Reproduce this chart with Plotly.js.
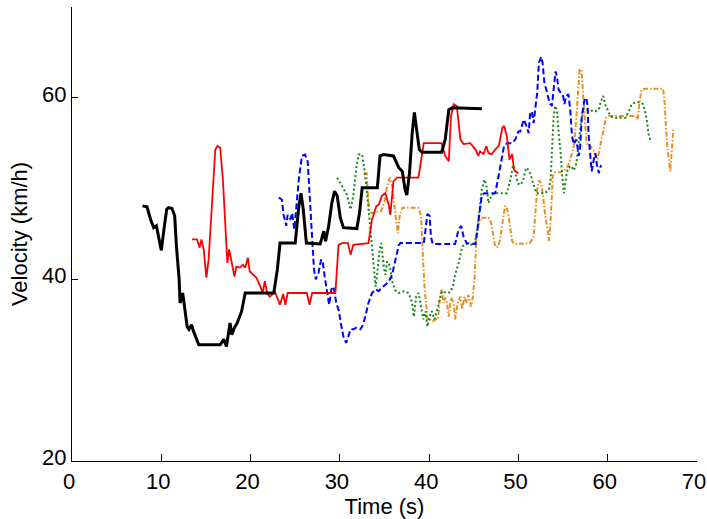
<!DOCTYPE html>
<html>
<head>
<meta charset="utf-8">
<script src="https://cdn.plot.ly/plotly-3.0.1.min.js"></script>
<style>html,body{margin:0;padding:0;background:#fff;}#chart{width:707px;height:519px;}</style>
</head>
<body>
<div id="chart"></div>
<script>
// [time (s), velocity (km/h)] pairs
const blackData = [[7.9,48.1],[8.4,48.0],[8.8,46.6],[9.15,45.7],[9.45,45.9],[9.7,44.7],[10.0,43.2],[10.3,45.5],[10.6,47.7],[10.8,47.9],[11.2,47.8],[11.5,47.0],[11.7,43.6],[12.0,40.0],[12.1,37.4],[12.4,38.5],[12.6,36.9],[12.9,34.8],[13.1,34.5],[13.4,35.0],[13.6,34.3],[14.0,33.2],[14.2,32.8],[16.6,32.8],[17.0,33.4],[17.3,32.6],[17.7,35.2],[17.9,33.9],[18.2,34.7],[18.5,35.2],[19.0,36.5],[19.4,38.5],[22.6,38.5],[23.0,41.1],[23.3,44.0],[25.0,44.0],[25.4,48.0],[25.65,49.5],[25.9,47.7],[26.25,44.0],[27.8,43.9],[28.2,45.3],[28.4,44.2],[28.75,45.9],[29.1,48.4],[29.4,49.7],[29.7,49.2],[30.05,46.8],[30.4,45.7],[31.9,45.6],[32.2,47.3],[32.5,50.1],[34.2,50.1],[34.5,53.6],[34.9,53.75],[36.0,53.6],[36.6,52.3],[37.0,51.9],[37.3,49.9],[37.5,49.3],[37.8,51.7],[38.1,56.1],[38.35,58.4],[38.6,56.5],[38.9,54.3],[39.2,54.0],[41.4,54.0],[41.8,55.4],[42.2,58.7],[42.6,58.9],[45.9,58.8]];
const redData = [[13.45,44.4],[14.0,44.4],[14.3,43.5],[14.5,44.4],[14.75,43.3],[15.05,40.2],[15.3,42.2],[15.5,45.5],[15.8,51.0],[16.05,54.3],[16.3,54.7],[16.6,54.5],[16.9,51.0],[17.2,45.5],[17.4,41.8],[17.6,43.3],[17.85,42.2],[18.2,40.3],[18.4,41.4],[18.8,41.3],[19.15,41.6],[19.4,41.3],[19.7,42.4],[19.9,40.9],[20.3,40.5],[20.65,40.2],[21.1,39.2],[21.35,38.5],[21.6,39.8],[21.85,38.5],[22.15,38.1],[22.4,38.3],[22.7,38.7],[22.95,38.0],[23.3,37.2],[23.65,38.4],[23.9,37.2],[24.15,38.5],[26.3,38.5],[26.6,37.2],[26.9,38.5],[29.5,38.5],[29.85,43.8],[30.25,44.0],[30.9,44.0],[31.2,42.7],[31.5,43.8],[33.2,44.0],[33.6,46.6],[34.1,48.1],[34.35,48.2],[34.7,49.2],[35.1,49.5],[35.5,48.1],[35.65,47.1],[36.0,50.8],[36.4,51.2],[38.8,51.2],[39.2,53.9],[39.4,55.0],[41.4,55.0],[41.8,53.6],[42.2,53.0],[42.45,58.0],[42.75,59.3],[43.1,59.1],[43.5,55.4],[43.85,54.9],[44.6,55.0],[45.2,54.3],[45.5,53.6],[45.7,54.1],[46.1,53.8],[46.4,54.7],[46.65,53.9],[47.0,53.8],[47.4,54.3],[47.8,54.7],[48.2,56.7],[48.4,56.9],[48.7,55.8],[49.0,53.2],[49.3,53.8],[49.5,52.1],[49.65,51.9],[50.0,51.7]];
const blueData = [[23.15,49.0],[23.5,48.8],[23.7,47.1],[24.0,45.9],[24.15,47.1],[24.45,46.6],[24.65,47.3],[24.9,45.5],[25.1,47.7],[25.4,51.0],[25.75,53.6],[26.1,53.75],[26.4,53.0],[26.6,49.2],[26.9,44.7],[27.1,41.1],[27.3,40.0],[27.6,40.7],[27.9,42.2],[28.1,41.8],[28.3,40.3],[28.55,38.5],[28.8,37.2],[29.05,38.9],[29.3,39.2],[29.6,37.4],[29.9,36.5],[30.1,35.2],[30.4,33.7],[30.7,33.0],[31.0,33.9],[31.2,34.5],[31.55,34.5],[31.85,34.7],[32.3,34.5],[32.6,35.0],[32.85,35.9],[33.2,37.4],[33.6,38.5],[34.0,38.9],[34.35,38.7],[34.7,39.1],[35.1,39.4],[35.5,39.8],[35.85,40.5],[36.1,41.5],[36.3,42.5],[36.6,43.8],[36.8,44.0],[39.4,44.0],[39.6,45.5],[39.8,47.2],[40.05,47.0],[40.2,44.7],[40.4,43.9],[42.9,43.9],[43.3,45.5],[43.6,45.9],[43.85,44.7],[44.2,44.0],[45.2,43.9],[45.55,46.6],[45.9,49.3],[46.2,49.5],[47.4,49.5],[47.8,51.5],[48.35,54.5],[48.7,55.0],[49.3,55.0],[49.65,55.4],[50.0,56.3],[50.2,56.3],[50.6,57.6],[50.9,56.9],[51.15,56.1],[51.3,58.2],[51.5,58.5],[51.7,57.2],[51.9,58.9],[52.1,60.6],[52.3,63.9],[52.55,64.5],[52.7,63.9],[52.9,61.7],[53.2,60.6],[53.5,59.4],[53.75,59.1],[53.95,61.3],[54.15,62.9],[54.3,62.4],[54.5,60.9],[54.7,60.6],[55.0,60.2],[55.15,59.3],[55.35,60.2],[55.6,60.4],[55.8,58.7],[56.0,55.8],[56.2,54.9],[56.5,55.4],[56.75,53.6],[56.9,54.3],[57.1,58.0],[57.4,59.8],[57.6,60.0],[57.75,59.1],[57.85,56.1],[58.05,53.6],[58.2,51.9],[58.4,53.0],[58.6,53.9],[58.8,52.6],[59.0,51.7],[59.25,52.6]];
const greenData = [[29.7,51.2],[30.05,50.6],[30.4,49.9],[30.8,49.3],[31.2,47.7],[31.5,49.2],[31.85,52.3],[32.1,53.75],[32.5,53.75],[32.75,52.1],[33.05,49.5],[33.4,45.5],[33.7,41.8],[34.0,39.2],[34.15,40.3],[34.45,43.3],[34.65,44.0],[34.9,41.5],[35.1,40.5],[35.3,42.0],[35.6,41.5],[35.85,39.8],[36.2,38.8],[36.6,38.5],[37.15,38.7],[37.7,38.5],[38.1,37.4],[38.3,35.9],[38.55,38.1],[38.8,38.5],[39.1,37.0],[39.35,35.6],[39.6,36.5],[39.8,34.8],[40.05,35.9],[40.3,36.5],[40.6,35.6],[40.9,36.7],[41.2,38.1],[41.45,38.7],[42.0,38.5],[42.4,38.6],[42.7,39.4],[42.9,40.5],[43.3,41.8],[43.7,43.6],[44.05,43.9],[45.05,43.8],[45.35,45.1],[45.65,47.7],[45.9,49.9],[46.2,51.0],[46.4,50.4],[46.65,48.4],[47.0,49.3],[47.4,49.5],[48.7,49.5],[49.1,51.0],[49.4,52.6],[49.65,51.9],[49.9,50.6],[50.2,50.4],[50.5,50.8],[50.8,52.1],[50.95,52.3],[51.3,51.7],[51.7,50.3],[52.0,49.5],[53.0,49.5],[53.4,49.9],[53.6,51.0],[53.75,54.3],[53.95,58.0],[54.1,59.1],[54.3,58.7],[54.5,56.1],[54.7,54.3],[54.9,51.4],[55.1,49.5],[55.25,50.6],[55.4,51.7],[55.6,52.3],[55.9,52.5],[56.2,52.0],[56.5,52.8],[56.75,55.0],[57.0,57.2],[57.25,58.5],[57.5,58.7],[58.6,58.5],[59.0,58.7],[59.2,59.5],[59.5,60.2],[59.7,59.3],[60.0,58.7],[60.3,58.0],[60.65,57.8],[62.0,57.8],[62.35,58.5],[62.7,59.3],[63.1,59.5],[63.65,59.5],[63.95,59.3],[64.2,58.5],[64.4,57.4],[64.55,56.1],[64.85,55.1]];
const orangeData = [[32.7,51.7],[33.0,51.7],[33.1,49.9],[33.3,47.5],[33.6,47.3],[34.2,47.4],[34.6,47.5],[35.0,48.5],[35.3,50.3],[35.6,51.2],[35.85,50.5],[36.05,48.5],[36.3,46.5],[36.5,45.1],[36.7,47.0],[37.0,47.9],[38.8,47.9],[39.1,47.0],[39.3,42.5],[39.5,38.9],[39.7,37.0],[39.8,35.6],[40.1,35.6],[40.4,35.4],[40.7,35.6],[41.0,35.6],[41.2,38.1],[41.4,38.9],[41.6,37.4],[41.8,38.0],[42.0,37.4],[42.2,35.9],[42.45,38.0],[42.75,37.4],[42.9,35.6],[43.2,37.4],[43.5,38.1],[43.7,36.7],[43.95,38.1],[44.2,37.4],[44.4,38.3],[44.7,37.0],[44.9,38.1],[45.1,40.3],[45.3,44.7],[45.55,46.2],[45.8,46.8],[46.65,46.8],[46.95,46.2],[47.2,44.7],[47.4,43.6],[47.7,43.6],[47.95,44.4],[48.25,46.5],[48.5,48.1],[48.7,47.9],[48.9,47.0],[49.1,45.5],[49.3,44.2],[49.55,43.9],[51.3,44.0],[51.7,44.7],[51.9,47.0],[52.1,49.9],[52.3,50.9],[52.55,50.6],[52.8,48.8],[53.0,47.0],[53.3,45.3],[53.4,44.2],[53.55,45.5],[53.7,48.1],[53.85,51.4],[54.1,51.8],[54.7,51.8],[55.25,52.1],[55.6,52.6],[56.0,53.9],[56.25,55.0],[56.5,58.0],[56.7,60.9],[56.85,63.1],[57.05,63.1],[57.25,60.2],[57.4,57.2],[57.6,55.4],[57.75,54.7],[58.05,54.7],[58.35,54.3],[58.6,53.9],[58.85,53.2],[59.05,54.3],[59.3,55.4],[59.55,56.5],[59.8,57.8],[60.1,58.0],[63.1,58.0],[63.35,57.6],[63.55,59.5],[63.8,60.9],[64.2,61.0],[66.2,61.0],[66.35,59.8],[66.5,57.2],[66.7,54.3],[66.9,52.8],[67.0,51.9],[67.1,53.2],[67.25,56.1],[67.35,56.5]];

const xTicks = [0,10,20,30,40,50,60,70];
const yTicks = [20,40,60];
const xTitle = 'Time (s)';
const yTitle = 'Velocity (km/h)';

function tr(data, color, width, dash) {
  return {
    x: data.map(p => p[0]), y: data.map(p => p[1]),
    type: 'scatter', mode: 'lines',
    line: {color: color, width: width, dash: dash},
    hoverinfo: 'skip', showlegend: false
  };
}

const traces = [
  tr(orangeData, 'rgb(232,144,32)', 2, '5px,2px,1.5px,2px'),
  tr(greenData, 'rgb(20,135,20)', 2, '2px,2.5px'),
  tr(blueData, 'rgb(0,0,255)', 2, '6px,3px'),
  tr(redData, 'rgb(255,0,0)', 1.8, 'solid'),
  tr(blackData, 'rgb(0,0,0)', 3, 'solid')
];

const fontFam = '"Liberation Sans", Arial, sans-serif';
const layout = {
  width: 707, height: 519,
  margin: {l: 72, r: 10, t: 7, b: 58},
  paper_bgcolor: '#fff', plot_bgcolor: '#fff',
  font: {family: fontFam, size: 22, color: '#000'},
  xaxis: {
    range: [0, 70], tickvals: xTicks, ticktext: xTicks.map(String),
    ticks: 'inside', ticklen: 7, tickcolor: '#000', tickwidth: 1,
    showline: true, linecolor: '#000', linewidth: 1, mirror: false,
    showgrid: false, zeroline: false,
    ticklabeloverflow: 'allow', ticklabelstandoff: 1, ticklabelshift: -3,
    tickfont: {family: fontFam, size: 22, color: '#000'},
    title: {text: xTitle, font: {family: fontFam, size: 22, color: '#000'}, standoff: 0}
  },
  yaxis: {
    range: [20, 70], tickvals: yTicks, ticktext: yTicks.map(String),
    ticks: 'inside', ticklen: 6, tickcolor: '#000', tickwidth: 1,
    showline: true, linecolor: '#000', linewidth: 1, mirror: false,
    showgrid: false, zeroline: false,
    ticklabeloverflow: 'allow', ticklabelstandoff: 0, ticklabelshift: -4,
    tickfont: {family: fontFam, size: 22, color: '#000'},
    title: {text: yTitle, font: {family: fontFam, size: 22, color: '#000'}, standoff: 8}
  }
};

Plotly.newPlot('chart', traces, layout, {staticPlot: true, displayModeBar: false});
</script>
</body>
</html>
